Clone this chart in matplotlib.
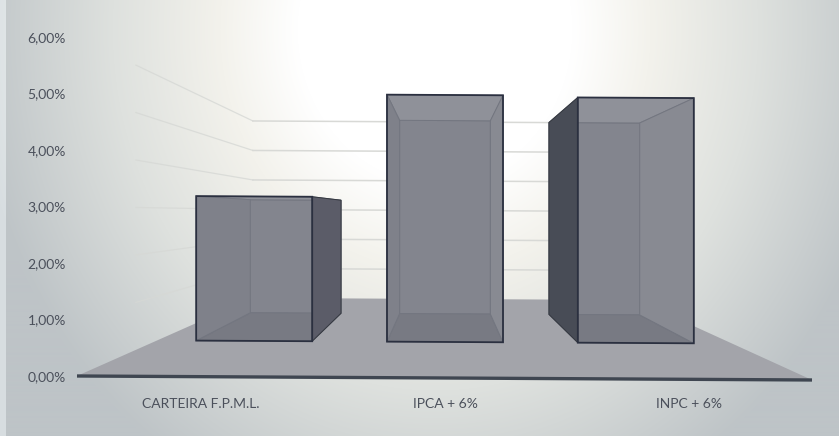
import numpy as np
import matplotlib
matplotlib.use("Agg")
import matplotlib.pyplot as plt

# values
categories = ["CARTEIRA F.P.M.L.", "IPCA + 6%", "INPC + 6%"]
values = [3.27, 5.59, 5.55]
y_ticks = [0, 1, 2, 3, 4, 5, 6]
y_labels = ["0,00%", "1,00%", "2,00%", "3,00%", "4,00%", "5,00%", "6,00%"]

W, H = 839, 436
plt.rcParams['font.family'] = ['Lato', 'DejaVu Sans']

fig = plt.figure(figsize=(W / 100, H / 100), dpi=100)

# background: white glow at the top centre fading to grey
bg_ax = fig.add_axes([0, 0, 1, 1], zorder=0)
yy, xx = np.mgrid[0:H, 0:W]
t = np.sqrt(((xx - 435) / 430.0) ** 2 + ((yy - 30) / 480.0) ** 2)
stops = [0.32, 0.50, 0.75, 1.08]
bg = np.dstack([
    np.interp(t, stops, [255, 243, 222, 190]),
    np.interp(t, stops, [255, 242, 225, 196]),
    np.interp(t, stops, [255, 236, 222, 199]),
]) / 255.0
bg[:, :6] = np.minimum(bg[:, :6] + 0.1, 1)
bg_ax.imshow(bg, aspect='auto', extent=(0, W, H, 0))
bg_ax.axis('off')

# main axes: its data plane is the front of the 3D box
left, right, top, bottom = 70, 812, 37, 376
ax = fig.add_axes([left / W, 1 - bottom / H, (right - left) / W, (bottom - top) / H], zorder=1)
ax.patch.set_alpha(0)
ax.set_xlim((left - 201) / 244.0, (right - 201) / 244.0)
ax.set_ylim(0, 6)
for s in ax.spines.values():
    s.set_visible(False)
ax.set_xticks(range(len(categories)))
ax.set_xticklabels(categories)
ax.set_yticks(y_ticks)
ax.set_yticklabels(y_labels)
ax.tick_params(length=0, labelsize=10, labelcolor='#4b505b')
ax.tick_params(axis='x', pad=16)
ax.tick_params(axis='y', pad=3)

VP_X, VP_Y = 1.0, 2.926   # vanishing point
K_WALL, K_BACK, K_FRONT = 0.522, 0.612, 0.782
HALF = 0.304
SKEW = 0.0235  # the scan leans slightly


def project(x, v, k):
    px = VP_X + k * (x - VP_X)
    py = VP_Y + k * (v - VP_Y)
    return px, py - SKEW * (px + 0.5)


def poly(points, color, z, ec='none', lw=0.0, alpha=1.0):
    xs, ys = zip(*points)
    ax.fill(xs, ys, facecolor=color, edgecolor=ec, linewidth=lw, zorder=z, alpha=alpha, clip_on=False)


# floor
x_l, x_r = (77 - 201) / 244.0, (812 - 201) / 244.0
poly([project(x_l, 0, 1), project(x_r, 0, 1), project(x_r, 0, K_WALL), project(x_l, 0, K_WALL)], '#a3a4aa', 2)

# grid lines on the back wall and the left wall
for v in y_ticks[1:]:
    xs, ys = zip(project(x_l, v, 0.84), project(x_l, v, K_WALL))
    ax.plot(xs, ys, color='#d6d8d5', lw=0.9, alpha=0.8, zorder=1, clip_on=False)
    xs, ys = zip(project(x_l, v, K_WALL), project(x_r, v, K_WALL))
    ax.plot(xs, ys, color='#d8d9d6', lw=1.1, zorder=1, clip_on=False)

# bars
for i, v in enumerate(values):
    x0, x1 = i - HALF, i + HALF
    base = 3
    fl, fr = project(x0, 0, K_FRONT), project(x1, 0, K_FRONT)
    ftl, ftr = project(x0, v, K_FRONT), project(x1, v, K_FRONT)
    bl, br = project(x0, 0, K_BACK), project(x1, 0, K_BACK)
    btl, btr = project(x0, v, K_BACK), project(x1, v, K_BACK)
    inner = '#737680'
    # back, floor and top panels
    poly([bl, br, btr, btl], '#83858e', base, ec=inner, lw=0.7)
    poly([fl, fr, br, bl], '#787a83', base + 0.1, ec=inner, lw=0.7)
    poly([ftl, ftr, btr, btl], '#8f9199', base + 0.1, ec=inner, lw=0.7)
    # side panels, dark when they stick out of the front face
    left_out = bl[0] < fl[0]
    right_out = br[0] > fr[0]
    poly([fl, bl, btl, ftl], '#484c56' if left_out else '#7f818a', base + (0.3 if left_out else 0.2),
         ec='#33373f' if left_out else inner, lw=0.7)
    poly([fr, br, btr, ftr], '#5b5c68' if right_out else '#888a92', base + (0.3 if right_out else 0.2),
         ec='#33373f' if right_out else inner, lw=0.7)
    # front outline
    poly([fl, fr, ftr, ftl], 'none', base + 0.5, ec='#2b3040', lw=1.3)

# baseline
xs, ys = zip(project(x_l, 0, 1), project(x_r, 0, 1))
ax.plot(xs, ys, color='#3f4651', lw=2.4, zorder=6, clip_on=False, solid_capstyle='butt')

fig.savefig('out.png', dpi=100)
